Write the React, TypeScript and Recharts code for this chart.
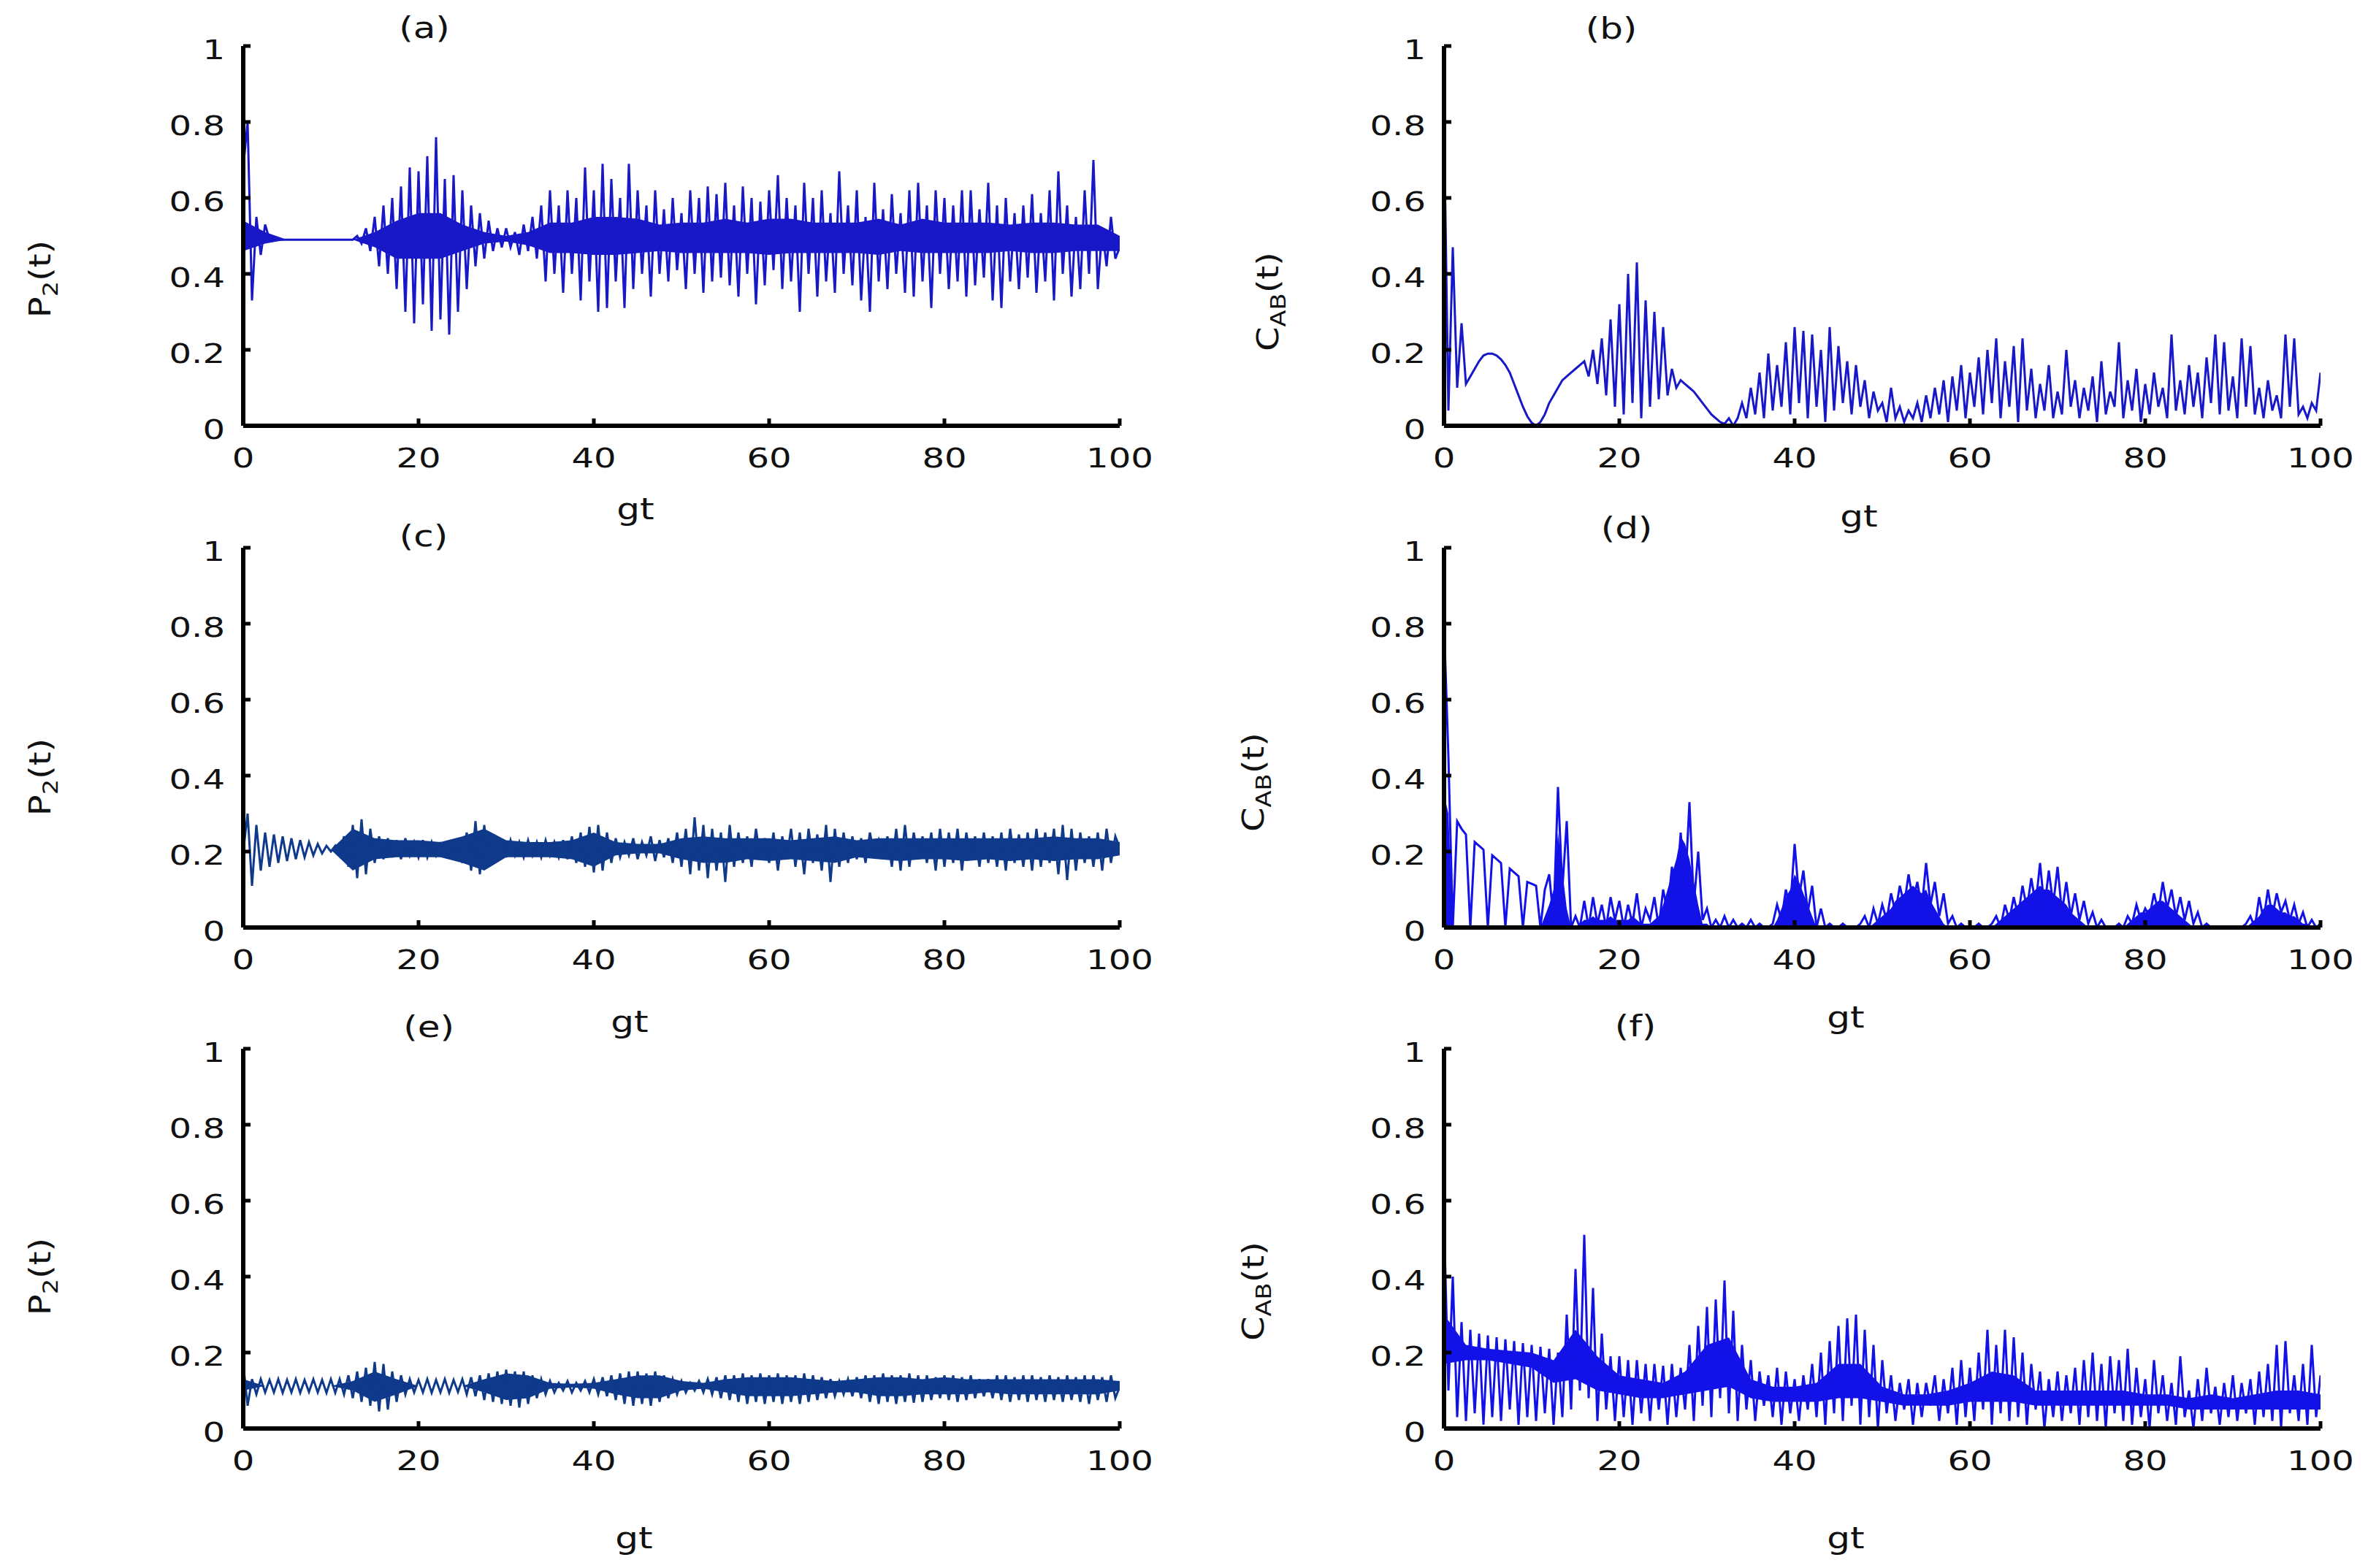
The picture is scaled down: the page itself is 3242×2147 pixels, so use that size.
import React from 'react';
import { ComposedChart, Line, Area, XAxis, YAxis } from 'recharts';

// ---------- data ----------
const X_TICKS = [0, 20, 40, 60, 80, 100];
const Y_TICKS = [0, 0.2, 0.4, 0.6, 0.8, 1];
const STEP = 0.5; // gt spacing of the sampled series values
const BAND_STEP = 2.5; // gt spacing of the dense-core band values

// (a) P2(t)
const aVals = [
  0.68, 0.80, 0.33, 0.55, 0.45, 0.53, 0.49, 0.49, 0.49, 0.49,
  0.49, 0.49, 0.49, 0.49, 0.49, 0.49, 0.49, 0.49, 0.49, 0.49,
  0.49, 0.49, 0.49, 0.49, 0.49, 0.49, 0.50, 0.48, 0.52, 0.46,
  0.55, 0.42, 0.58, 0.40, 0.60, 0.36, 0.63, 0.30, 0.68, 0.27,
  0.67, 0.32, 0.71, 0.25, 0.76, 0.28, 0.65, 0.24, 0.66, 0.30,
  0.62, 0.36, 0.58, 0.42, 0.56, 0.44, 0.54, 0.46, 0.52, 0.47,
  0.52, 0.47, 0.51, 0.45, 0.53, 0.46, 0.55, 0.44, 0.58, 0.38,
  0.62, 0.40, 0.58, 0.35, 0.62, 0.40, 0.60, 0.33, 0.68, 0.38,
  0.62, 0.30, 0.69, 0.31, 0.65, 0.38, 0.60, 0.31, 0.69, 0.36,
  0.62, 0.40, 0.58, 0.34, 0.62, 0.40, 0.57, 0.38, 0.60, 0.41,
  0.56, 0.36, 0.62, 0.40, 0.60, 0.35, 0.63, 0.38, 0.61, 0.39,
  0.64, 0.37, 0.58, 0.34, 0.63, 0.40, 0.60, 0.32, 0.59, 0.37,
  0.62, 0.41, 0.66, 0.36, 0.60, 0.38, 0.58, 0.30, 0.64, 0.40,
  0.60, 0.34, 0.62, 0.38, 0.56, 0.35, 0.67, 0.40, 0.58, 0.37,
  0.62, 0.33, 0.55, 0.30, 0.64, 0.38, 0.57, 0.36, 0.61, 0.40,
  0.56, 0.35, 0.62, 0.34, 0.64, 0.38, 0.58, 0.31, 0.62, 0.40,
  0.60, 0.36, 0.58, 0.38, 0.62, 0.34, 0.62, 0.37, 0.57, 0.39,
  0.64, 0.33, 0.58, 0.31, 0.60, 0.38, 0.56, 0.36, 0.58, 0.39,
  0.61, 0.35, 0.56, 0.38, 0.62, 0.33, 0.67, 0.40, 0.58, 0.34,
  0.55, 0.36, 0.62, 0.40, 0.70, 0.36, 0.52, 0.42, 0.55, 0.44,
  0.47,
];
const aLo = [
  0.46, 0.48, 0.49, 0.49,
  0.49, 0.49, 0.47, 0.44,
  0.44, 0.44, 0.46, 0.48,
  0.485, 0.475, 0.455, 0.455,
  0.45, 0.45, 0.455, 0.46,
  0.455, 0.455, 0.455, 0.455,
  0.45, 0.455, 0.455, 0.455,
  0.455, 0.45, 0.46, 0.455,
  0.455, 0.455, 0.455, 0.46,
  0.455, 0.455, 0.46, 0.46,
  0.46,
];
const aHi = [
  0.54, 0.51, 0.49, 0.49,
  0.49, 0.49, 0.51, 0.54,
  0.56, 0.56, 0.53, 0.51,
  0.50, 0.51, 0.535, 0.535,
  0.55, 0.55, 0.545, 0.53,
  0.535, 0.535, 0.545, 0.535,
  0.545, 0.545, 0.535, 0.535,
  0.535, 0.545, 0.53, 0.545,
  0.535, 0.535, 0.535, 0.53,
  0.535, 0.535, 0.53, 0.53,
  0.50,
];

// (b) C_AB(t)
const bVals = [
  0.80, 0.04, 0.47, 0.10, 0.27, 0.11, 0.13, 0.15, 0.17, 0.185,
  0.19, 0.19, 0.185, 0.175, 0.16, 0.14, 0.11, 0.08, 0.05, 0.025,
  0.008, 0.0, 0.01, 0.03, 0.06, 0.08, 0.10, 0.12, 0.13, 0.14,
  0.15, 0.16, 0.17, 0.13, 0.20, 0.11, 0.23, 0.08, 0.28, 0.05,
  0.32, 0.03, 0.40, 0.06, 0.43, 0.02, 0.33, 0.05, 0.30, 0.07,
  0.26, 0.08, 0.15, 0.10, 0.12, 0.11, 0.10, 0.09, 0.075, 0.06,
  0.045, 0.03, 0.02, 0.01, 0.005, 0.02, 0.0, 0.02, 0.06, 0.02,
  0.10, 0.03, 0.14, 0.02, 0.19, 0.04, 0.16, 0.05, 0.22, 0.03,
  0.26, 0.06, 0.25, 0.02, 0.24, 0.05, 0.20, 0.01, 0.26, 0.04,
  0.21, 0.06, 0.17, 0.03, 0.16, 0.05, 0.12, 0.02, 0.09, 0.04,
  0.06, 0.01, 0.10, 0.02, 0.05, 0.01, 0.04, 0.02, 0.06, 0.01,
  0.08, 0.02, 0.10, 0.03, 0.12, 0.01, 0.13, 0.04, 0.16, 0.02,
  0.14, 0.05, 0.18, 0.03, 0.20, 0.06, 0.23, 0.02, 0.17, 0.05,
  0.21, 0.01, 0.23, 0.04, 0.15, 0.02, 0.11, 0.04, 0.16, 0.02,
  0.09, 0.03, 0.20, 0.05, 0.12, 0.02, 0.10, 0.04, 0.13, 0.01,
  0.17, 0.03, 0.09, 0.05, 0.22, 0.02, 0.12, 0.04, 0.15, 0.01,
  0.11, 0.03, 0.14, 0.05, 0.10, 0.02, 0.24, 0.04, 0.12, 0.03,
  0.16, 0.05, 0.14, 0.02, 0.18, 0.06, 0.24, 0.03, 0.22, 0.04,
  0.13, 0.02, 0.23, 0.05, 0.21, 0.03, 0.10, 0.02, 0.12, 0.04,
  0.08, 0.02, 0.24, 0.05, 0.23, 0.03, 0.05, 0.02, 0.06, 0.04,
  0.14,
];

// (c) P2(t)
const cVals = [
  0.20, 0.30, 0.11, 0.27, 0.15, 0.25, 0.16, 0.245, 0.17, 0.24,
  0.175, 0.235, 0.18, 0.23, 0.185, 0.225, 0.19, 0.22, 0.195, 0.215,
  0.20, 0.215, 0.19, 0.24, 0.16, 0.27, 0.13, 0.285, 0.14, 0.26,
  0.17, 0.24, 0.18, 0.235, 0.185, 0.23, 0.18, 0.235, 0.19, 0.225,
  0.185, 0.23, 0.185, 0.225, 0.19, 0.22, 0.195, 0.215, 0.19, 0.23,
  0.17, 0.25, 0.15, 0.28, 0.14, 0.27, 0.16, 0.24, 0.18, 0.23,
  0.185, 0.23, 0.19, 0.225, 0.185, 0.23, 0.19, 0.225, 0.185, 0.23,
  0.19, 0.225, 0.185, 0.23, 0.18, 0.24, 0.17, 0.25, 0.16, 0.265,
  0.145, 0.27, 0.15, 0.25, 0.17, 0.235, 0.185, 0.225, 0.19, 0.235,
  0.18, 0.225, 0.19, 0.24, 0.175, 0.23, 0.185, 0.235, 0.17, 0.25,
  0.16, 0.26, 0.14, 0.29, 0.15, 0.27, 0.13, 0.26, 0.15, 0.25,
  0.12, 0.27, 0.16, 0.25, 0.17, 0.24, 0.16, 0.26, 0.18, 0.235,
  0.17, 0.25, 0.15, 0.24, 0.18, 0.26, 0.16, 0.25, 0.14, 0.26,
  0.17, 0.245, 0.15, 0.27, 0.12, 0.26, 0.16, 0.25, 0.17, 0.24,
  0.18, 0.235, 0.17, 0.25, 0.19, 0.23, 0.18, 0.24, 0.16, 0.26,
  0.15, 0.27, 0.16, 0.25, 0.18, 0.24, 0.17, 0.25, 0.15, 0.26,
  0.16, 0.25, 0.17, 0.26, 0.15, 0.25, 0.18, 0.24, 0.16, 0.25,
  0.17, 0.24, 0.16, 0.25, 0.15, 0.26, 0.17, 0.245, 0.16, 0.25,
  0.15, 0.26, 0.16, 0.25, 0.17, 0.26, 0.14, 0.27, 0.125, 0.26,
  0.15, 0.25, 0.17, 0.24, 0.16, 0.25, 0.15, 0.26, 0.17, 0.24,
  0.21,
];
const cLo = [
  0.205, 0.205, 0.205, 0.205,
  0.205, 0.15, 0.18, 0.185,
  0.185, 0.185, 0.17, 0.15,
  0.185, 0.185, 0.185, 0.18,
  0.16, 0.19, 0.195, 0.195,
  0.18, 0.17, 0.17, 0.18,
  0.175, 0.18, 0.175, 0.17,
  0.185, 0.18, 0.175, 0.18,
  0.18, 0.175, 0.18, 0.175,
  0.18, 0.175, 0.18, 0.18,
  0.19,
];
const cHi = [
  0.205, 0.205, 0.205, 0.205,
  0.205, 0.26, 0.235, 0.23,
  0.23, 0.225, 0.24, 0.26,
  0.23, 0.225, 0.225, 0.23,
  0.25, 0.225, 0.22, 0.22,
  0.235, 0.24, 0.235, 0.235,
  0.235, 0.23, 0.235, 0.24,
  0.23, 0.235, 0.235, 0.235,
  0.235, 0.235, 0.235, 0.235,
  0.235, 0.24, 0.235, 0.235,
  0.225,
];

// (d) C_AB(t)
const dVals = [
  0.80, 0.45, 0.00, 0.28, 0.26, 0.245, 0.00, 0.225, 0.215, 0.205,
  0.00, 0.19, 0.18, 0.17, 0.00, 0.155, 0.145, 0.135, 0.00, 0.12,
  0.115, 0.11, 0.00, 0.10, 0.14, 0.02, 0.37, 0.10, 0.28, 0.00,
  0.03, 0.00, 0.07, 0.00, 0.08, 0.01, 0.06, 0.00, 0.08, 0.02,
  0.07, 0.00, 0.06, 0.01, 0.09, 0.00, 0.05, 0.02, 0.08, 0.00,
  0.10, 0.04, 0.16, 0.08, 0.25, 0.10, 0.33, 0.06, 0.20, 0.02,
  0.05, 0.00, 0.02, 0.00, 0.03, 0.00, 0.02, 0.00, 0.01, 0.00,
  0.02, 0.00, 0.01, 0.00, 0.00, 0.01, 0.06, 0.02, 0.10, 0.05,
  0.22, 0.08, 0.15, 0.04, 0.11, 0.00, 0.05, 0.00, 0.01, 0.00,
  0.00, 0.01, 0.00, 0.00, 0.00, 0.01, 0.03, 0.00, 0.05, 0.01,
  0.06, 0.02, 0.09, 0.04, 0.11, 0.06, 0.14, 0.07, 0.12, 0.05,
  0.17, 0.06, 0.12, 0.03, 0.09, 0.01, 0.03, 0.00, 0.01, 0.00,
  0.00, 0.00, 0.01, 0.00, 0.00, 0.01, 0.03, 0.00, 0.06, 0.02,
  0.08, 0.03, 0.11, 0.05, 0.13, 0.06, 0.17, 0.05, 0.15, 0.06,
  0.16, 0.04, 0.12, 0.03, 0.09, 0.02, 0.07, 0.01, 0.04, 0.00,
  0.02, 0.00, 0.00, 0.00, 0.01, 0.00, 0.03, 0.01, 0.06, 0.02,
  0.05, 0.03, 0.09, 0.04, 0.12, 0.05, 0.10, 0.03, 0.08, 0.02,
  0.07, 0.01, 0.04, 0.00, 0.01, 0.00, 0.00, 0.00, 0.00, 0.00,
  0.00, 0.00, 0.00, 0.01, 0.03, 0.00, 0.08, 0.02, 0.10, 0.03,
  0.09, 0.04, 0.07, 0.02, 0.06, 0.01, 0.04, 0.00, 0.02, 0.00,
  0.01,
];
const dFill = [
  0.35, 0.30, 0, 0, 0, 0, 0, 0, 0, 0,
  0, 0, 0, 0, 0, 0, 0, 0, 0, 0,
  0, 0, 0, 0.03, 0.06, 0.10, 0.25, 0.15, 0.05, 0,
  0, 0.01, 0.02, 0.02, 0.03, 0.02, 0.02, 0.02, 0.03, 0.02,
  0.02, 0.02, 0.02, 0.03, 0.02, 0.01, 0.01, 0.01, 0.02, 0.03,
  0.06, 0.10, 0.14, 0.18, 0.24, 0.22, 0.18, 0.12, 0.06, 0.01,
  0.01, 0, 0, 0, 0, 0, 0, 0, 0, 0,
  0, 0, 0, 0, 0, 0, 0.02, 0.05, 0.08, 0.10,
  0.14, 0.12, 0.09, 0.06, 0.03, 0, 0, 0, 0, 0,
  0, 0, 0, 0, 0, 0, 0, 0, 0.01, 0.02,
  0.03, 0.04, 0.05, 0.07, 0.08, 0.09, 0.10, 0.11, 0.10, 0.09,
  0.10, 0.07, 0.05, 0.03, 0.01, 0, 0, 0, 0, 0,
  0, 0, 0, 0, 0, 0, 0.01, 0.02, 0.03, 0.04,
  0.05, 0.06, 0.07, 0.08, 0.09, 0.10, 0.11, 0.10, 0.10, 0.09,
  0.08, 0.07, 0.06, 0.04, 0.03, 0.02, 0.01, 0, 0, 0,
  0, 0, 0, 0, 0, 0, 0.01, 0.02, 0.03, 0.04,
  0.04, 0.05, 0.06, 0.07, 0.07, 0.06, 0.05, 0.04, 0.03, 0.02,
  0.01, 0, 0, 0, 0, 0, 0, 0, 0, 0,
  0, 0, 0, 0, 0.01, 0.02, 0.03, 0.05, 0.06, 0.06,
  0.05, 0.04, 0.04, 0.03, 0.03, 0.02, 0.01, 0.01, 0, 0,
  0,
];

// (e) P2(t)
const eVals = [
  0.17, 0.06, 0.13, 0.09, 0.13, 0.095, 0.128, 0.095, 0.13, 0.094,
  0.128, 0.095, 0.13, 0.094, 0.128, 0.096, 0.13, 0.095, 0.128, 0.094,
  0.13, 0.094, 0.13, 0.09, 0.14, 0.08, 0.15, 0.07, 0.16, 0.06,
  0.175, 0.045, 0.17, 0.05, 0.15, 0.07, 0.14, 0.09, 0.13, 0.095,
  0.128, 0.095, 0.13, 0.094, 0.128, 0.095, 0.13, 0.094, 0.128, 0.096,
  0.13, 0.09, 0.135, 0.085, 0.14, 0.075, 0.145, 0.07, 0.15, 0.065,
  0.155, 0.06, 0.15, 0.055, 0.15, 0.065, 0.14, 0.08, 0.13, 0.09,
  0.125, 0.095, 0.12, 0.10, 0.125, 0.095, 0.12, 0.10, 0.125, 0.095,
  0.13, 0.09, 0.135, 0.085, 0.14, 0.075, 0.145, 0.065, 0.15, 0.06,
  0.15, 0.065, 0.145, 0.06, 0.15, 0.07, 0.14, 0.08, 0.13, 0.09,
  0.125, 0.095, 0.12, 0.10, 0.125, 0.095, 0.13, 0.09, 0.135, 0.08,
  0.14, 0.075, 0.14, 0.07, 0.145, 0.065, 0.14, 0.07, 0.145, 0.065,
  0.14, 0.07, 0.145, 0.065, 0.14, 0.07, 0.14, 0.065, 0.145, 0.07,
  0.14, 0.075, 0.135, 0.08, 0.13, 0.085, 0.125, 0.09, 0.13, 0.085,
  0.135, 0.08, 0.14, 0.07, 0.14, 0.065, 0.145, 0.07, 0.14, 0.065,
  0.14, 0.07, 0.145, 0.068, 0.14, 0.07, 0.14, 0.075, 0.135, 0.08,
  0.14, 0.075, 0.14, 0.07, 0.135, 0.075, 0.14, 0.08, 0.13, 0.085,
  0.13, 0.08, 0.14, 0.075, 0.14, 0.07, 0.135, 0.075, 0.14, 0.07,
  0.14, 0.075, 0.135, 0.07, 0.14, 0.075, 0.135, 0.07, 0.14, 0.075,
  0.135, 0.07, 0.14, 0.065, 0.14, 0.075, 0.135, 0.07, 0.14, 0.08,
  0.11,
];
const eLo = [
  0.10, 0.112, 0.112, 0.112,
  0.112, 0.10, 0.07, 0.09,
  0.112, 0.112, 0.112, 0.095,
  0.075, 0.08, 0.105, 0.108,
  0.105, 0.09, 0.08, 0.08,
  0.10, 0.105, 0.095, 0.085,
  0.085, 0.085, 0.09, 0.095,
  0.095, 0.085, 0.085, 0.09,
  0.09, 0.09, 0.095, 0.09,
  0.09, 0.09, 0.09, 0.09,
  0.10,
];
const eHi = [
  0.13, 0.112, 0.112, 0.112,
  0.112, 0.125, 0.15, 0.13,
  0.112, 0.112, 0.112, 0.13,
  0.145, 0.14, 0.12, 0.118,
  0.12, 0.13, 0.14, 0.14,
  0.125, 0.12, 0.13, 0.135,
  0.135, 0.135, 0.13, 0.125,
  0.13, 0.135, 0.135, 0.13,
  0.135, 0.13, 0.13, 0.13,
  0.13, 0.13, 0.13, 0.13,
  0.125,
];

// (f) C_AB(t)
const fVals = [
  0.55, 0.10, 0.40, 0.03, 0.28, 0.02, 0.26, 0.04, 0.25, 0.01,
  0.245, 0.03, 0.24, 0.02, 0.235, 0.05, 0.23, 0.01, 0.225, 0.03,
  0.22, 0.02, 0.215, 0.04, 0.21, 0.01, 0.20, 0.03, 0.30, 0.05,
  0.42, 0.10, 0.51, 0.08, 0.37, 0.02, 0.25, 0.05, 0.19, 0.02,
  0.19, 0.03, 0.18, 0.01, 0.18, 0.04, 0.17, 0.02, 0.17, 0.05,
  0.165, 0.01, 0.17, 0.03, 0.16, 0.05, 0.22, 0.02, 0.27, 0.06,
  0.32, 0.03, 0.34, 0.08, 0.39, 0.04, 0.31, 0.02, 0.22, 0.05,
  0.18, 0.02, 0.15, 0.06, 0.14, 0.03, 0.16, 0.01, 0.15, 0.04,
  0.13, 0.02, 0.14, 0.05, 0.17, 0.03, 0.20, 0.01, 0.23, 0.04,
  0.27, 0.02, 0.29, 0.06, 0.30, 0.01, 0.26, 0.03, 0.22, 0.00,
  0.18, 0.04, 0.14, 0.02, 0.12, 0.05, 0.13, 0.01, 0.12, 0.03,
  0.12, 0.06, 0.14, 0.02, 0.13, 0.04, 0.16, 0.01, 0.18, 0.03,
  0.16, 0.02, 0.20, 0.05, 0.26, 0.01, 0.22, 0.04, 0.26, 0.02,
  0.24, 0.03, 0.20, 0.01, 0.17, 0.05, 0.15, 0.00, 0.13, 0.03,
  0.15, 0.02, 0.14, 0.04, 0.16, 0.01, 0.18, 0.03, 0.20, 0.02,
  0.17, 0.00, 0.19, 0.04, 0.18, 0.02, 0.21, 0.01, 0.16, 0.03,
  0.13, 0.00, 0.18, 0.04, 0.14, 0.02, 0.12, 0.01, 0.19, 0.03,
  0.10, 0.00, 0.13, 0.02, 0.16, 0.04, 0.11, 0.01, 0.12, 0.03,
  0.14, 0.02, 0.12, 0.04, 0.13, 0.01, 0.15, 0.03, 0.17, 0.02,
  0.22, 0.00, 0.23, 0.04, 0.14, 0.02, 0.17, 0.01, 0.22, 0.03,
  0.14,
];
const fLo = [
  0.17, 0.18, 0.18, 0.17,
  0.16, 0.12, 0.13, 0.10,
  0.09, 0.08, 0.08, 0.09,
  0.10, 0.11, 0.08, 0.07,
  0.07, 0.07, 0.08, 0.08,
  0.07, 0.06, 0.06, 0.06,
  0.07, 0.07, 0.07, 0.06,
  0.06, 0.06, 0.06, 0.06,
  0.06, 0.06, 0.05, 0.05,
  0.05, 0.05, 0.05, 0.05,
  0.05,
];
const fHi = [
  0.30, 0.22, 0.21, 0.205,
  0.20, 0.18, 0.26, 0.19,
  0.14, 0.13, 0.12, 0.15,
  0.22, 0.24, 0.13, 0.11,
  0.11, 0.12, 0.17, 0.17,
  0.11, 0.09, 0.09, 0.10,
  0.12, 0.15, 0.14, 0.10,
  0.10, 0.10, 0.10, 0.10,
  0.09, 0.09, 0.08, 0.09,
  0.08, 0.09, 0.10, 0.10,
  0.09,
];

// ---------- drawing ----------
const FONT = 'DejaVu Sans';
const INK = '#111111';
const BLUE_A = '#1818c8';
const NAVY = '#0f3a8c';
const BLUE_D = '#1212e8';

const PLOT_W = 1200;
const PLOT_H = 520;
const ML = 200;
const MT = 30;
const MR = 60;
const MB = 90;

const fmt = (v: number) => String(v);

const YTick = (props: any) => {
  const { x, y, payload } = props;
  return (
    <text
      x={0}
      y={0}
      transform={`translate(${x - 25},${y + 18}) scale(1.3,1)`}
      textAnchor="end"
      fontFamily={FONT}
      fontSize={37}
      fill={INK}
    >
      {fmt(payload.value)}
    </text>
  );
};

const XTick = (props: any) => {
  const { x, y, payload } = props;
  return (
    <text
      x={0}
      y={0}
      transform={`translate(${x},${y + 57}) scale(1.3,1)`}
      textAnchor="middle"
      fontFamily={FONT}
      fontSize={37}
      fill={INK}
    >
      {fmt(payload.value)}
    </text>
  );
};

type PanelProps = {
  left: number;
  top: number;
  vals: number[];
  color: string;
  lo?: number[];
  hi?: number[];
  fill?: number[];
};

function Panel({ left, top, vals, color, lo, hi, fill }: PanelProps) {
  const lineData = vals.map((v, i) => ({ t: i * STEP, v }));
  const bandData = lo && hi ? lo.map((l, i) => ({ t: i * BAND_STEP, r: [l, hi[i]] })) : null;
  const fillData = fill ? fill.map((v, i) => ({ t: i * STEP, v })) : null;
  return (
    <div style={{ position: 'absolute', left: left - ML, top: top - MT }}>
      <ComposedChart
        width={PLOT_W + ML + MR}
        height={PLOT_H + MT + MB}
        margin={{ top: MT, right: MR, bottom: 0, left: 0 }}
      >
        <XAxis
          type="number"
          dataKey="t"
          domain={[0, 100]}
          ticks={X_TICKS}
          interval={0}
          allowDataOverflow
          height={MB}
          axisLine={{ stroke: '#000', strokeWidth: 6 }}
          tickLine={{ stroke: '#000', strokeWidth: 5 }}
          tickSize={-10}
          tickMargin={10}
          tick={<XTick />}
        />
        <YAxis
          type="number"
          domain={[0, 1]}
          ticks={Y_TICKS}
          interval={0}
          allowDataOverflow
          width={ML}
          axisLine={{ stroke: '#000', strokeWidth: 6 }}
          tickLine={{ stroke: '#000', strokeWidth: 5 }}
          tickSize={-10}
          tickMargin={10}
          tick={<YTick />}
        />
        {bandData && (
          <Area
            data={bandData}
            dataKey="r"
            type="linear"
            stroke="none"
            fill={color}
            fillOpacity={1}
            isAnimationActive={false}
          />
        )}
        {fillData && (
          <Area
            data={fillData}
            dataKey="v"
            type="linear"
            stroke="none"
            fill={color}
            fillOpacity={1}
            isAnimationActive={false}
          />
        )}
        <Line
          data={lineData}
          dataKey="v"
          type="linear"
          stroke={color}
          strokeWidth={3}
          dot={false}
          isAnimationActive={false}
        />
      </ComposedChart>
    </div>
  );
}

const textStyle = { fontFamily: FONT, fill: INK } as const;

function Title({ x, y, s }: { x: number; y: number; s: string }) {
  return (
    <text transform={`translate(${x},${y + 13}) scale(1.25,1)`} textAnchor="middle" fontSize={40} {...textStyle}>
      {s}
    </text>
  );
}

function YLabel({ x, y, main, sub }: { x: number; y: number; main: string; sub: string }) {
  return (
    <text
      transform={`translate(${x},${y}) rotate(-90) scale(1.2,1)`}
      textAnchor="middle"
      fontSize={40}
      dy={14}
      {...textStyle}
    >
      {main}
      <tspan fontSize={28} dy={10}>
        {sub}
      </tspan>
      <tspan dy={-10}>(t)</tspan>
    </text>
  );
}

export default function App() {
  const L = 333;
  const R = 1977;
  const T1 = 63;
  const T2 = 750;
  const T3 = 1436;
  return (
    <div
      style={{
        position: 'absolute',
        left: 0,
        top: 0,
        width: 3242,
        height: 2147,
        background: '#ffffff',
        overflow: 'hidden',
      }}
    >
      <Panel left={L} top={T1} vals={aVals} color={BLUE_A} lo={aLo} hi={aHi} />
      <Panel left={R} top={T1} vals={bVals} color={BLUE_A} />
      <Panel left={L} top={T2} vals={cVals} color={NAVY} lo={cLo} hi={cHi} />
      <Panel left={R} top={T2} vals={dVals} color={BLUE_D} fill={dFill} />
      <Panel left={L} top={T3} vals={eVals} color={NAVY} lo={eLo} hi={eHi} />
      <Panel left={R} top={T3} vals={fVals} color={BLUE_D} lo={fLo} hi={fHi} />
      <svg
        width={3242}
        height={2147}
        style={{ position: 'absolute', left: 0, top: 0, pointerEvents: 'none' }}
      >
        <Title x={581} y={39} s="(a)" />
        <Title x={2206} y={40} s="(b)" />
        <Title x={580} y={735} s="(c)" />
        <Title x={2227} y={724} s="(d)" />
        <Title x={587} y={1407} s="(e)" />
        <Title x={2239} y={1406} s="(f)" />

        <Title x={870} y={698} s="gt" />
        <Title x={2545} y={708} s="gt" />
        <Title x={862} y={1400} s="gt" />
        <Title x={2527} y={1394} s="gt" />
        <Title x={868} y={2107} s="gt" />
        <Title x={2527} y={2107} s="gt" />

        <YLabel x={55} y={382} main="P" sub="2" />
        <YLabel x={55} y={1064} main="P" sub="2" />
        <YLabel x={55} y={1748} main="P" sub="2" />
        <YLabel x={1736} y={413} main="C" sub="AB" />
        <YLabel x={1716} y={1071} main="C" sub="AB" />
        <YLabel x={1716} y={1768} main="C" sub="AB" />
      </svg>
    </div>
  );
}
